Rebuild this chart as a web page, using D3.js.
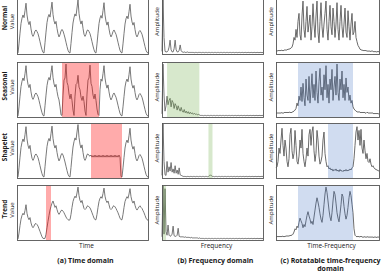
<!DOCTYPE html>
<html>
<head>
<meta charset="utf-8">
<script src="https://cdn.jsdelivr.net/npm/d3@7"></script>
<style>
  body { margin: 0; background: #fff; }
  svg { display: block; }
  text { font-family: 'Open Sans', sans-serif; fill: #1a1a1a; }
</style>
</head>
<body>
<div id="chart"></div>
<script>
const rowNames = ['Normal', 'Seasonal', 'Shapelet', 'Trend']
const yLabels = ['Value', 'Amplitude', 'Amplitude']
const xLabels = ['Time', 'Frequency', 'Time-Frequency']
const captions = [['(a) Time domain'], ['(b) Frequency domain'], ['(c) Rotatable time-frequency', 'domain']]

// time domain, one sample per time step
const timeNormal = [
  0.01, 0.18, 0.38, 0.56, 0.66, 0.72, 0.67, 0.8, 0.94, 0.72, 0.6, 0.54, 0.6, 0.46, 0.36, 0.32, 0.36, 0.42, 0.44, 0.41, 0.37, 0.3, 0.22, 0.14, 0.07, 0.02,
  0.01, 0.2, 0.4, 0.58, 0.68, 0.73, 0.68, 0.82, 0.96, 0.73, 0.61, 0.55, 0.6, 0.47, 0.37, 0.31, 0.35, 0.42, 0.45, 0.42, 0.36, 0.29, 0.21, 0.13, 0.06, 0.02,
  0.01, 0.19, 0.39, 0.57, 0.67, 0.74, 0.7, 0.85, 1.0, 0.75, 0.62, 0.55, 0.61, 0.47, 0.36, 0.32, 0.36, 0.43, 0.44, 0.41, 0.37, 0.3, 0.22, 0.14, 0.07, 0.02,
  0.01, 0.18, 0.38, 0.56, 0.66, 0.71, 0.66, 0.8, 0.95, 0.72, 0.6, 0.53, 0.59, 0.46, 0.36, 0.31, 0.35, 0.41, 0.44, 0.4, 0.36, 0.29, 0.21, 0.13, 0.06, 0.02,
  0.01, 0.18, 0.37, 0.55, 0.65, 0.7, 0.65, 0.78, 0.92, 0.7, 0.59, 0.53, 0.58, 0.45, 0.35, 0.31, 0.35, 0.41, 0.43, 0.4, 0.36, 0.29, 0.21, 0.13, 0.06, 0.02,
  0.01
]
const timeSeasonal = [
  0.01, 0.18, 0.38, 0.56, 0.66, 0.72, 0.67, 0.8, 0.95, 0.72, 0.6, 0.54, 0.6, 0.46, 0.36, 0.32, 0.36, 0.42, 0.44, 0.41, 0.37, 0.3, 0.22, 0.14, 0.07, 0.02,
  0.01, 0.2, 0.4, 0.58, 0.68, 0.73, 0.68, 0.82, 0.95, 0.73, 0.61, 0.55, 0.6, 0.47, 0.37, 0.31, 0.18, 0.03,
  0.02, 0.4, 0.68, 0.72, 0.98, 0.64, 0.58, 0.42, 0.33, 0.42, 0.3, 0.12,
  0.02, 0.38, 0.6, 0.62, 0.77, 0.55, 0.5, 0.36, 0.3, 0.38, 0.28, 0.1,
  0.02, 0.42, 0.68, 0.72, 0.96, 0.62, 0.56, 0.4, 0.33, 0.42, 0.3, 0.14, 0.04, 0.02,
  0.5, 0.7, 0.66, 0.8, 0.95, 0.72, 0.6, 0.53, 0.59, 0.46, 0.36, 0.31, 0.35, 0.41, 0.44, 0.4, 0.36, 0.29, 0.21, 0.13, 0.06, 0.02,
  0.01, 0.18, 0.37, 0.55, 0.65, 0.7, 0.65, 0.78, 0.93, 0.7, 0.59, 0.53, 0.58, 0.45, 0.35, 0.31, 0.35, 0.41, 0.43, 0.4, 0.36, 0.29, 0.21, 0.13, 0.06, 0.02,
  0.01
]
const timeShapelet = [
  0.01, 0.18, 0.38, 0.56, 0.66, 0.72, 0.67, 0.8, 0.95, 0.72, 0.6, 0.54, 0.6, 0.46, 0.36, 0.32, 0.36, 0.42, 0.44, 0.41, 0.37, 0.3, 0.22, 0.14, 0.07, 0.02,
  0.01, 0.2, 0.4, 0.58, 0.68, 0.73, 0.68, 0.82, 0.96, 0.73, 0.61, 0.55, 0.6, 0.47, 0.37, 0.31, 0.35, 0.42, 0.45, 0.42, 0.36, 0.29, 0.21, 0.13, 0.06, 0.02,
  0.01, 0.19, 0.39, 0.57, 0.67, 0.74, 0.7, 0.85, 0.99, 0.75, 0.62, 0.55, 0.61, 0.47, 0.36, 0.32, 0.36, 0.43, 0.44, 0.41, 0.4,
  0.42, 0.38, 0.41, 0.38, 0.42, 0.38, 0.41, 0.38, 0.42, 0.38, 0.41, 0.38, 0.42, 0.38, 0.41,
  0.38, 0.42, 0.38, 0.41, 0.38, 0.42, 0.38, 0.41, 0.38, 0.42, 0.38, 0.41, 0.38, 0.42, 0.38,
  0.02,
  0.01, 0.18, 0.37, 0.55, 0.65, 0.7, 0.65, 0.78, 0.92, 0.7, 0.59, 0.53, 0.58, 0.45, 0.35, 0.31, 0.35, 0.41, 0.43, 0.4, 0.36, 0.29, 0.21, 0.13, 0.06, 0.02,
  0.01
]
const timeTrend = [
  0.01, 0.12, 0.26, 0.38, 0.45, 0.49, 0.46, 0.54, 0.65, 0.49, 0.41, 0.37, 0.41, 0.31, 0.25, 0.22, 0.25, 0.29, 0.3, 0.28, 0.25, 0.2, 0.15, 0.1, 0.05, 0.02,
  0.02, 0.02, 0.1, 0.22, 0.34, 0.45, 0.55, 0.62,
  0.68, 0.72, 0.66, 0.6, 0.63, 0.56, 0.5, 0.47, 0.5, 0.54, 0.55, 0.53, 0.5, 0.46, 0.42, 0.39, 0.37, 0.36,
  0.37, 0.47, 0.6, 0.71, 0.77, 0.81, 0.78, 0.87, 0.98, 0.82, 0.73, 0.69, 0.73, 0.65, 0.58, 0.56, 0.58, 0.62, 0.63, 0.61, 0.59, 0.55, 0.5, 0.45, 0.4, 0.37,
  0.37, 0.47, 0.6, 0.71, 0.77, 0.8, 0.77, 0.86, 0.96, 0.81, 0.73, 0.69, 0.72, 0.65, 0.58, 0.56, 0.58, 0.62, 0.63, 0.61, 0.58, 0.54, 0.5, 0.45, 0.4, 0.37,
  0.37, 0.47, 0.6, 0.71, 0.76, 0.8, 0.77, 0.85, 0.95, 0.8, 0.72, 0.68, 0.72, 0.64, 0.58, 0.55, 0.58, 0.61, 0.63, 0.6, 0.58, 0.54, 0.5, 0.45, 0.4, 0.37,
  0.36
]

// frequency domain amplitudes
const freqNormal = [
  0.04, 1.0, 0.3, 0.04, 0.03, 0.03, 0.05, 0.12, 0.25, 0.07, 0.03, 0.03, 0.09, 0.25, 0.07, 0.03, 0.03, 0.06, 0.16, 0.05,
  0.03, 0.02, 0.03, 0.02, 0.02, 0.03, 0.02, 0.02, 0.02, 0.02, 0.02, 0.02, 0.015, 0.02, 0.02, 0.015, 0.02, 0.02, 0.02, 0.015,
  0.02, 0.02, 0.015, 0.02, 0.02, 0.015, 0.02, 0.02, 0.015, 0.02, 0.02, 0.015, 0.02, 0.02, 0.015, 0.02, 0.02, 0.015, 0.02, 0.02,
  0.015, 0.02, 0.02, 0.015, 0.02, 0.02, 0.015, 0.02, 0.02, 0.015, 0.02, 0.02, 0.015, 0.02, 0.02, 0.015, 0.02, 0.02, 0.015, 0.02,
  0.02, 0.015, 0.02, 0.02, 0.015, 0.02, 0.02, 0.015, 0.02, 0.02, 0.015, 0.02, 0.02, 0.015, 0.02, 0.02, 0.015, 0.02, 0.02, 0.015,
  0.02
]
const freqSeasonal = [
  0.05, 0.98, 0.4, 0.1, 0.2, 0.38, 0.22, 0.3, 0.34, 0.18, 0.3, 0.26, 0.15, 0.24, 0.2, 0.12, 0.2, 0.14, 0.1, 0.17,
  0.1, 0.08, 0.13, 0.07, 0.1, 0.06, 0.09, 0.05, 0.08, 0.05, 0.07, 0.04, 0.06, 0.04, 0.05, 0.03, 0.04, 0.03, 0.02, 0.02,
  0.02, 0.015, 0.02, 0.02, 0.015, 0.02, 0.02, 0.015, 0.02, 0.02, 0.015, 0.02, 0.02, 0.015, 0.02, 0.02, 0.015, 0.02, 0.02, 0.015,
  0.02, 0.02, 0.015, 0.02, 0.02, 0.015, 0.02, 0.02, 0.015, 0.02, 0.02, 0.015, 0.02, 0.02, 0.015, 0.02, 0.02, 0.015, 0.02, 0.02,
  0.015, 0.02, 0.02, 0.015, 0.02, 0.02, 0.015, 0.02, 0.02, 0.015, 0.02, 0.02, 0.015, 0.02, 0.02, 0.015, 0.02, 0.02, 0.015, 0.02,
  0.02
]
const freqShapelet = [
  0.04, 1.0, 0.3, 0.05, 0.04, 0.3, 0.1, 0.2, 0.12, 0.28, 0.1, 0.16, 0.08, 0.22, 0.08, 0.14, 0.06, 0.18, 0.05, 0.04,
  0.03, 0.02, 0.02, 0.02, 0.015, 0.02, 0.02, 0.015, 0.02, 0.02, 0.015, 0.02, 0.02, 0.015, 0.02, 0.02, 0.015, 0.02, 0.02, 0.015,
  0.02, 0.02, 0.015, 0.02, 0.02, 0.015, 0.02, 0.03, 0.05, 0.03, 0.02, 0.02, 0.015, 0.02, 0.02, 0.015, 0.02, 0.02, 0.015, 0.02,
  0.02, 0.015, 0.02, 0.02, 0.015, 0.02, 0.02, 0.015, 0.02, 0.02, 0.015, 0.02, 0.02, 0.015, 0.02, 0.02, 0.015, 0.02, 0.02, 0.015,
  0.02, 0.02, 0.015, 0.02, 0.02, 0.015, 0.02, 0.02, 0.015, 0.02, 0.02, 0.015, 0.02, 0.02, 0.015, 0.02, 0.02, 0.015, 0.02, 0.02,
  0.02
]
const freqTrend = [
  0.05, 1.0, 0.1, 0.95, 0.15, 0.08, 0.27, 0.08, 0.06, 0.07, 0.1, 0.25, 0.07, 0.06, 0.06, 0.08, 0.21, 0.06, 0.05, 0.05,
  0.05, 0.05, 0.04, 0.05, 0.04, 0.04, 0.04, 0.04, 0.03, 0.04, 0.03, 0.03, 0.03, 0.03, 0.03, 0.03, 0.02, 0.03, 0.02, 0.02,
  0.02, 0.02, 0.015, 0.02, 0.02, 0.015, 0.02, 0.02, 0.015, 0.02, 0.02, 0.015, 0.02, 0.02, 0.015, 0.02, 0.02, 0.015, 0.02, 0.02,
  0.015, 0.02, 0.02, 0.015, 0.02, 0.02, 0.015, 0.02, 0.02, 0.015, 0.02, 0.02, 0.015, 0.02, 0.02, 0.015, 0.02, 0.02, 0.015, 0.02,
  0.02, 0.015, 0.02, 0.02, 0.015, 0.02, 0.02, 0.015, 0.02, 0.02, 0.015, 0.02, 0.02, 0.015, 0.02, 0.02, 0.015, 0.02, 0.02, 0.015,
  0.02
]

// rotatable time-frequency domain amplitudes
const tfNormal = [
  0.04, 0.05, 0.05, 0.06, 0.05, 0.06, 0.06, 0.05, 0.06, 0.07, 0.06, 0.07, 0.08, 0.08, 0.09, 0.1,
  0.12, 0.18, 0.3, 0.25, 0.45,
  0.3, 0.6, 0.75, 0.35, 0.25, 0.7, 0.98, 0.45, 0.3, 0.6, 0.88, 0.4, 0.55, 0.72, 0.25, 0.5, 0.93, 0.55, 0.3, 0.7,
  0.98, 0.4, 0.2, 0.6, 0.95, 0.5, 0.3, 0.55, 0.75, 0.98, 0.45, 0.25, 0.6, 0.9, 0.5, 0.35, 0.85, 0.6, 0.3, 0.55,
  0.95, 0.45, 0.25, 0.6, 0.9, 0.5, 0.3, 0.55, 0.85, 0.4, 0.3, 0.8, 0.5, 0.25, 0.55, 0.75, 0.35, 0.4, 0.6, 0.3,
  0.22, 0.15, 0.12, 0.08,
  0.07, 0.06, 0.06, 0.05, 0.06, 0.05, 0.05, 0.04, 0.05, 0.04, 0.04, 0.05, 0.04, 0.03, 0.04, 0.03, 0.03, 0.04, 0.03
]
const tfSeasonal = [
  0.06, 0.07, 0.06, 0.07, 0.06, 0.07, 0.07, 0.06, 0.07, 0.08, 0.07, 0.08, 0.07, 0.08, 0.08, 0.07, 0.08, 0.09, 0.1, 0.12,
  0.15, 0.25, 0.2, 0.38, 0.3, 0.55, 0.28, 0.62, 0.35, 0.2, 0.7, 0.4, 0.3, 0.75, 0.25, 0.5, 0.8, 0.35, 0.6, 0.3,
  0.85, 0.45, 0.25, 0.65, 0.9, 0.4, 0.55, 0.3, 0.78, 0.5, 0.95, 0.35, 0.6, 0.25, 0.7, 0.5, 0.88, 0.3, 0.55, 0.75,
  0.4, 0.98, 0.45, 0.3, 0.7, 0.5, 0.85, 0.35, 0.6, 0.3, 0.72, 0.45, 0.55, 0.3, 0.4, 0.25, 0.3, 0.18, 0.14,
  0.12, 0.1, 0.09, 0.08, 0.09, 0.08, 0.07, 0.08, 0.07, 0.08, 0.07, 0.06, 0.08, 0.07, 0.06, 0.07, 0.06, 0.07, 0.06, 0.05,
  0.06, 0.05, 0.06, 0.05, 0.05
]
const tfShapelet = [
  0.18, 0.2, 0.3, 0.55, 0.45, 0.7, 0.92, 0.6, 0.4, 0.7, 0.55, 0.3, 0.2, 0.35, 0.8, 0.92, 0.5, 0.35, 0.45, 0.88,
  0.6, 0.3, 0.25, 0.4, 0.7, 0.55, 0.9, 0.45, 0.3, 0.2, 0.35, 0.55, 0.4, 0.8, 0.9, 0.6, 0.85, 0.95, 0.5, 0.3,
  0.45, 0.88, 0.7, 0.4, 0.25, 0.3, 0.4, 0.7, 0.85, 0.45, 0.3, 0.2,
  0.22, 0.16, 0.18, 0.14, 0.16, 0.12, 0.15, 0.13, 0.16, 0.12, 0.14, 0.11, 0.15, 0.12, 0.13, 0.11, 0.14, 0.12, 0.15, 0.12,
  0.14, 0.13, 0.16, 0.14, 0.18, 0.2,
  0.35, 0.6, 0.85, 0.95, 0.7, 0.88, 0.6, 0.9, 0.55, 0.45, 0.7, 0.5, 0.35, 0.45, 0.3, 0.28, 0.35, 0.25, 0.2, 0.22,
  0.18, 0.16, 0.15, 0.14, 0.13, 0.12
]
const tfTrend = [
  0.05, 0.05, 0.06, 0.05, 0.06, 0.05, 0.06, 0.06, 0.05, 0.06, 0.06, 0.07, 0.06, 0.07, 0.07, 0.08, 0.08, 0.1,
  0.14, 0.2, 0.18, 0.25, 0.22, 0.32, 0.4, 0.35, 0.3, 0.22, 0.28, 0.24, 0.35, 0.45, 0.52, 0.44, 0.38, 0.3, 0.34, 0.28,
  0.42, 0.55, 0.68, 0.78, 0.7, 0.6, 0.48, 0.38, 0.32, 0.45, 0.65, 0.85, 0.98, 0.88, 0.72, 0.55, 0.42, 0.35, 0.5, 0.72,
  0.9, 0.84, 0.68, 0.5, 0.4, 0.33, 0.48, 0.65, 0.85, 0.8, 0.62, 0.48, 0.38, 0.45, 0.6, 0.78, 0.9, 0.82, 0.66, 0.5, 0.2,
  0.08, 0.06, 0.05, 0.06, 0.05, 0.05, 0.06, 0.05, 0.04, 0.05, 0.05, 0.04, 0.05, 0.05, 0.04, 0.05, 0.04, 0.05, 0.04, 0.04,
  0.05, 0.04, 0.04, 0.05, 0.04
]

// highlighted ranges, in sample index units
const timeSpans = [null, [44, 81], [73, 104], [28, 33]]
const freqSpans = [null, [5, 37], [46, 50], [0.7, 4]]
const tfSpans = [null, [22, 77], [52, 77], [22, 77]]

const columns = [
  { series: [timeNormal, timeSeasonal, timeShapelet, timeTrend], spans: timeSpans, x0: 17, x1: 148, inset: 1, color: '#ff0000', alpha: 0.33, stroke: '#6a6a6a' },
  { series: [freqNormal, freqSeasonal, freqShapelet, freqTrend], spans: freqSpans, x0: 162, x1: 263, inset: 0, color: '#70ad47', alpha: 0.28, stroke: '#666' },
  { series: [tfNormal, tfSeasonal, tfShapelet, tfTrend], spans: tfSpans, x0: 276, x1: 379, inset: 0, color: '#4472c4', alpha: 0.25, stroke: '#5a5a5a' }
]
const rowTops = [-1, 62, 123, 185]
const rowH = 56
// the top row is cut by the figure edge, so its labels sit a little higher
const labelShift = [-5, 0, 0, 0]

const svg = d3.select('#chart').append('svg')
  .attr('width', 381)
  .attr('height', 274)

columns.forEach(function (col, c) {
  col.series.forEach(function (data, r) {
    const top = rowTops[r]
    const x = d3.scaleLinear().domain([0, data.length - 1]).range([col.x0 + col.inset, col.x1])
    const y = d3.scaleLinear().domain([0, 1]).range([top + rowH - 1.5, top + 1])

    const g = svg.append('g')

    g.append('path')
      .datum(data)
      .attr('fill', 'none')
      .attr('stroke', col.stroke)
      .attr('stroke-width', 0.9)
      .attr('stroke-linejoin', 'round')
      .attr('d', d3.line().x((d, i) => x(i)).y(d => y(d)))

    const span = col.spans[r]
    if (span) {
      g.append('rect')
        .attr('x', x(span[0]))
        .attr('y', top + 0.5)
        .attr('width', x(span[1]) - x(span[0]))
        .attr('height', rowH - 1)
        .attr('fill', col.color)
        .attr('fill-opacity', col.alpha)
    }

    g.append('rect')
      .attr('x', col.x0 + 0.5)
      .attr('y', top + 0.5)
      .attr('width', col.x1 - col.x0)
      .attr('height', rowH - 1)
      .attr('fill', 'none')
      .attr('stroke', '#555')
      .attr('stroke-width', 0.9)

    svg.append('text')
      .attr('transform', 'translate(' + (col.x0 - 3) + ',' + (top + rowH / 2 - 3 + labelShift[r] / 2) + ') rotate(-90)')
      .attr('text-anchor', 'middle')
      .style('font-size', '6px')
      .text(yLabels[c])
  })

  svg.append('text')
    .attr('x', (col.x0 + col.x1) / 2 + 4)
    .attr('y', 248)
    .attr('text-anchor', 'middle')
    .style('font-size', '6.5px')
    .text(xLabels[c])

  captions[c].forEach(function (line, k) {
    svg.append('text')
      .attr('x', (col.x0 + col.x1) / 2 + 3)
      .attr('y', 263 + k * 8)
      .attr('text-anchor', 'middle')
      .style('font-size', '7px')
      .style('font-weight', 'bold')
      .text(line)
  })
})

rowNames.forEach(function (name, r) {
  svg.append('text')
    .attr('transform', 'translate(7,' + (rowTops[r] + rowH / 2 - 4 + labelShift[r]) + ') rotate(-90)')
    .attr('text-anchor', 'middle')
    .style('font-size', '6.5px')
    .style('font-weight', 'bold')
    .text(name)
})
</script>
</body>
</html>
